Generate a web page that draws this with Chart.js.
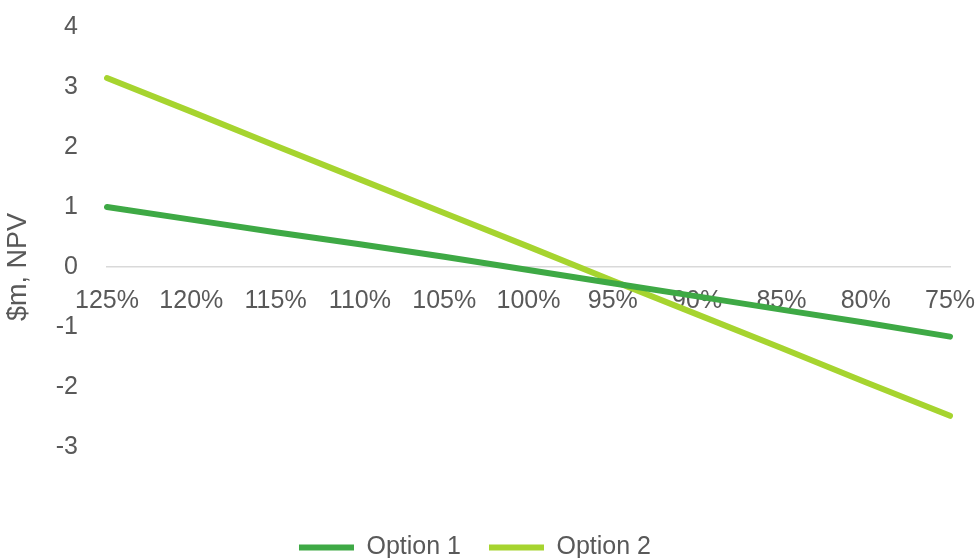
<!DOCTYPE html>
<html>
<head>
<meta charset="utf-8">
<script src="https://cdn.jsdelivr.net/npm/chart.js@4/dist/chart.umd.min.js"></script>
<style>
  html, body { margin: 0; padding: 0; background: #fff; }
  #wrap { width: 980px; height: 558px; }
</style>
</head>
<body>
<div id="wrap"><canvas id="npv-chart"></canvas></div>
<script>
// price level scenarios (left to right as in the original)
const categories = ['125%', '120%', '115%', '110%', '105%', '100%', '95%', '90%', '85%', '80%', '75%']
// NPV in $m
const option1 = [1.00, 0.79, 0.58, 0.38, 0.17, -0.05, -0.27, -0.49, -0.71, -0.93, -1.16]
const option2 = [3.15, 2.59, 2.02, 1.46, 0.90, 0.34, -0.23, -0.79, -1.35, -1.92, -2.48]
const seriesNames = ['Option 1', 'Option 2']
// labelled values on the y axis (the axis runs on to -4 without a label)
const yTicks = [4, 3, 2, 1, 0, -1, -2, -3]

const textGrey = '#595959'
const font = { family: 'Liberation Sans, Arial, sans-serif', size: 25 }

const ctx = document.getElementById('npv-chart').getContext('2d')
const npvChart = new Chart(ctx, {
  type: 'line',
  data: {
    labels: categories,
    datasets: [
      {
        label: seriesNames[0],
        data: option1,
        borderColor: '#3ea945',
        backgroundColor: '#3ea945',
        borderWidth: 6,
        pointRadius: 0,
        borderCapStyle: 'round'
      },
      {
        label: seriesNames[1],
        data: option2,
        borderColor: '#a6d42f',
        backgroundColor: '#a6d42f',
        borderWidth: 6,
        pointRadius: 0,
        borderCapStyle: 'round'
      }
    ]
  },
  options: {
    responsive: true,
    maintainAspectRatio: false,
    animation: false,
    layout: {
      padding: { top: 27, right: 30, bottom: -12, left: 0 }
    },
    scales: {
      x: {
        position: { y: 0 },
        offset: false,
        grid: { display: false },
        border: { display: true, color: '#d9d9d9', width: 1.5 },
        afterFit: (scale) => {
          scale.paddingLeft = 0
          scale.paddingRight = 0
        },
        ticks: { color: textGrey, font: font, padding: 11, maxRotation: 0, autoSkip: false }
      },
      y: {
        min: -4,
        max: 4,
        grid: { display: false },
        border: { display: false },
        afterFit: (scale) => {
          scale.width = 107
          scale.paddingTop = 0
          scale.paddingBottom = 0
        },
        afterBuildTicks: (scale) => {
          scale.ticks = yTicks.map(v => ({ value: v }))
        },
        ticks: {
          color: textGrey,
          font: font,
          padding: 21
        },
        title: {
          display: true,
          text: '$m, NPV',
          color: textGrey,
          font: { family: font.family, size: 27 },
          padding: { top: 2, bottom: 10 }
        }
      }
    },
    plugins: {
      legend: {
        position: 'bottom',
        labels: {
          color: textGrey,
          font: font,
          usePointStyle: true,
          pointStyle: 'line',
          pointStyleWidth: 55,
          padding: 28
        }
      },
      tooltip: { enabled: false }
    }
  }
})
</script>
</body>
</html>
